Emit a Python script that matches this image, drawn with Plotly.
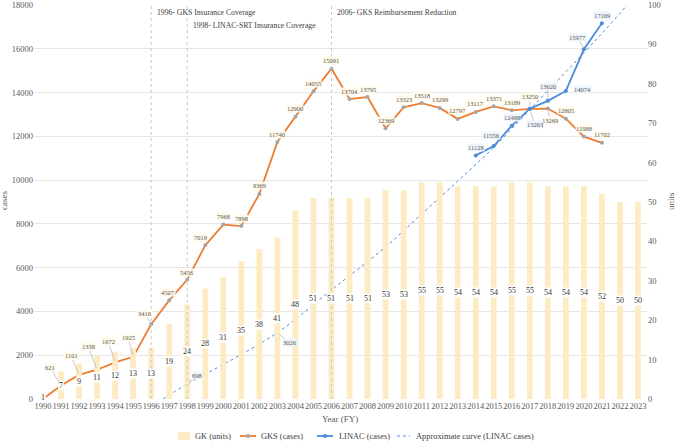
import plotly.graph_objects as go

# ---------------- data ----------------
years = list(range(1990, 2024))
gk_units = [1, 7, 9, 11, 12, 13, 13, 19, 24, 28, 31, 35, 38, 41, 48, 51, 51, 51, 51, 53,
            53, 55, 55, 54, 54, 54, 55, 55, 54, 54, 54, 52, 50, 50]

gks_years = list(range(1990, 2022))
gks_cases = [0, 621, 1101, 1338, 1672, 1925, 3416, 4507, 5456, 7019, 7968, 7898, 9369, 11740,
             12900, 14055, 15091, 13704, 13795, 12369, 13323, 13518, 13299, 12797, 13117,
             13371, 13189, 13250, 13269, 12805, 11988, 11702]

linac_years = [1998, 1999, 2000, 2001, 2002, 2003, 2004, 2005, 2006, 2007, 2008, 2009, 2010,
               2011, 2012, 2013, 2014, 2015, 2016, 2017, 2018, 2019, 2020, 2021]
linac_cases = [698, None, None, None, None, 3026, None, None, None, None, None, None, None,
               None, None, None, 11128, 11556, 12488, 13263, 13620, 14074, 15977, 17169]

approx_years = [1996.65, 1998, 2000, 2003, 2006, 2009, 2011, 2013, 2015, 2017, 2019, 2021, 2022.4]
approx_cases = [0, 690, 1580, 3030, 4980, 6950, 8450, 9950, 11500, 13220, 14950, 16700, 18000]

event_years = [1996, 1998, 2006]
event_texts = ["1996- GKS Insurance Coverage", "1998- LINAC-SRT Insurance Coverage",
               "2006- GKS Reimbursement Reduction"]

legend_names = ["GK (units)", "GKS (cases)", "LINAC (cases)", "Approximate curve (LINAC cases)"]

# ---------------- styling ----------------
FONT = "Liberation Serif, Tinos, Times New Roman, DejaVu Serif, serif"
ORANGE = "#ED7D31"
BLUE = "#4A8CDB"
BAR = "#FDEBC3"
GRAY_TXT = "#595959"

L, R, T, B, W, H = 34, 29, 5, 43, 676, 442
PW, PH = W - L - R, H - T - B


def px_x(px):
    return (px - L) / PW


def px_y(py):
    return (H - B - py) / PH


# label offsets (dx, dy in px, dy down) and whether a leader line is drawn
gks_lab = {1991: (-11, -18, True), 1992: (-8, -19, True), 1993: (-9, -23, True),
           1994: (-7, -21, True), 1995: (-5, -19, True), 1996: (-6, -11, True),
           1997: (-1, -8, False), 1998: (0, -7, False), 1999: (-5, -8, False),
           2017: (0, -12, True), 2018: (2, 12, True)}
linac_lab = {1998: (10, -8, True), 2003: (13, 10, True), 2014: (0, -8, False),
             2015: (-2, -11, False), 2016: (0, -8, False), 2017: (5, 16, True),
             2018: (0, -14, True), 2019: (17, -1, False), 2020: (-6, -12, True),
             2021: (0, -8, False)}
event_py = [12, 26, 12]

fig = go.Figure()

fig.add_trace(go.Bar(x=years, y=gk_units, yaxis="y2", name=legend_names[0], showlegend=False,
                     marker=dict(color=BAR, line=dict(width=0)), width=0.32))
fig.add_trace(go.Scatter(x=gks_years, y=gks_cases, name=legend_names[1], mode="lines+markers",
                         showlegend=False, line=dict(color=ORANGE, width=1.8),
                         marker=dict(color="#A5A5A5", size=4)))
fig.add_trace(go.Scatter(x=linac_years, y=linac_cases, name=legend_names[2], mode="lines+markers",
                         showlegend=False, connectgaps=False, line=dict(color=BLUE, width=1.8),
                         marker=dict(color=BLUE, size=4)))
fig.add_trace(go.Scatter(x=approx_years, y=approx_cases, name=legend_names[3], showlegend=False,
                         mode="lines", line=dict(color=BLUE, width=1, dash="3px,3px", shape="spline")))

ann = []
# GK unit labels (centre of bar)
for yr, v in zip(years, gk_units):
    ann.append(dict(x=yr, y=v / 2, xref="x", yref="y2", text=str(v), showarrow=False,
                    xanchor="center", yanchor="middle",
                    font=dict(family=FONT, size=8, color="#333333"), bgcolor="white",
                    borderpad=0))


def add_labels(xs, vs, offs, bg):
    for yr, v in zip(xs, vs):
        if v is None or v == 0:
            continue
        dx, dy, lead = offs.get(yr, (0, -8, False))
        base = dict(x=yr, y=v, xref="x", yref="y", text=str(v),
                    font=dict(family=FONT, size=6.5, color=GRAY_TXT), bgcolor=bg, borderpad=0)
        if lead:
            base.update(showarrow=True, ax=dx, ay=dy, arrowhead=0, arrowwidth=0.6,
                        arrowcolor="#A6A6A6", standoff=2)
        else:
            base.update(showarrow=False, xshift=dx, yshift=-dy, xanchor="center", yanchor="middle")
        ann.append(base)


add_labels(gks_years, gks_cases, gks_lab, "rgba(255,249,232,0.9)")
add_labels(linac_years, linac_cases, linac_lab, "rgba(236,243,252,0.9)")

shapes = []
for yr, txt, py in zip(event_years, event_texts, event_py):
    shapes.append(dict(type="line", x0=yr, x1=yr, xref="x", y0=0, y1=1, yref="paper",
                       line=dict(color="#C8C8C8", width=1, dash="dot")))
    ann.append(dict(x=yr, y=px_y(py), xref="x", yref="paper", text=txt, showarrow=False,
                    xanchor="left", yanchor="middle", xshift=4,
                    font=dict(family=FONT, size=7.7, color="#404040")))

# axis titles
ann.append(dict(x=px_x(4), y=px_y(201), xref="paper", yref="paper", text="cases", textangle=-90,
                xanchor="center", yanchor="middle",
                showarrow=False, font=dict(family=FONT, size=9, color=GRAY_TXT)))
ann.append(dict(x=px_x(671), y=px_y(201), xref="paper", yref="paper", text="units", textangle=-90,
                xanchor="center", yanchor="middle",
                showarrow=False, font=dict(family=FONT, size=9, color=GRAY_TXT)))
ann.append(dict(x=px_x(340), y=px_y(419), xref="paper", yref="paper", text="Year (FY)",
                xanchor="center", yanchor="middle",
                showarrow=False, font=dict(family=FONT, size=9, color=GRAY_TXT)))

# manual legend
LY = 436
leg_sw = [(178, 190), (240, 256), (317, 333), (397, 410)]
leg_tx = [193, 259, 337, 414]
shapes.append(dict(type="rect", xref="paper", yref="paper", x0=px_x(leg_sw[0][0]), x1=px_x(leg_sw[0][1]),
                   y0=px_y(LY + 4), y1=px_y(LY - 4), fillcolor=BAR, line=dict(width=0)))
for i, col in [(1, ORANGE), (2, BLUE)]:
    a, b = leg_sw[i]
    shapes.append(dict(type="line", xref="paper", yref="paper", x0=px_x(a), x1=px_x(b),
                       y0=px_y(LY), y1=px_y(LY), line=dict(color=col, width=1.8)))
    mc = "#A5A5A5" if i == 1 else BLUE
    m = (a + b) / 2
    shapes.append(dict(type="circle", xref="paper", yref="paper", x0=px_x(m - 2), x1=px_x(m + 2),
                       y0=px_y(LY + 2), y1=px_y(LY - 2), fillcolor=mc, line=dict(width=0)))
a, b = leg_sw[3]
shapes.append(dict(type="line", xref="paper", yref="paper", x0=px_x(a), x1=px_x(b),
                   y0=px_y(LY), y1=px_y(LY), line=dict(color=BLUE, width=1, dash="3px,3px")))
for name, tx in zip(legend_names, leg_tx):
    ann.append(dict(x=px_x(tx), y=px_y(LY), xref="paper", yref="paper", text=name,
                    xanchor="left", yanchor="middle", showarrow=False,
                    font=dict(family=FONT, size=8.4, color="#404040")))

fig.update_layout(
    width=W, height=H,
    margin=dict(l=L, r=R, t=T, b=B),
    paper_bgcolor="white", plot_bgcolor="white",
    font=dict(family=FONT, size=8.5, color=GRAY_TXT),
    showlegend=False,
    xaxis=dict(range=[1989.5, 2023.5], tickmode="array", tickvals=years, tickangle=0,
               ticktext=[str(y) for y in years], showgrid=False, zeroline=False,
               showline=False, ticks="", automargin=False, tickfont=dict(family=FONT, size=8.5)),
    yaxis=dict(range=[0, 18000], tickmode="array", tickvals=list(range(0, 18001, 2000)),
               ticktext=[str(v) for v in range(0, 18001, 2000)], ticklabeloverflow="allow",
               showgrid=True, gridcolor="#E6E6E6", gridwidth=1, automargin=False,
               zeroline=False, showline=False, ticks="", tickfont=dict(family=FONT, size=8.5)),
    yaxis2=dict(range=[0, 100], tickmode="array", tickvals=list(range(0, 101, 10)),
                ticktext=[str(v) for v in range(0, 101, 10)], overlaying="y", side="right",
                ticklabeloverflow="allow", automargin=False,
                showgrid=False, zeroline=False, showline=False, ticks="",
                tickfont=dict(family=FONT, size=8.5)),
    annotations=ann, shapes=shapes,
    hovermode=False,
)

fig.write_html("out.html")
